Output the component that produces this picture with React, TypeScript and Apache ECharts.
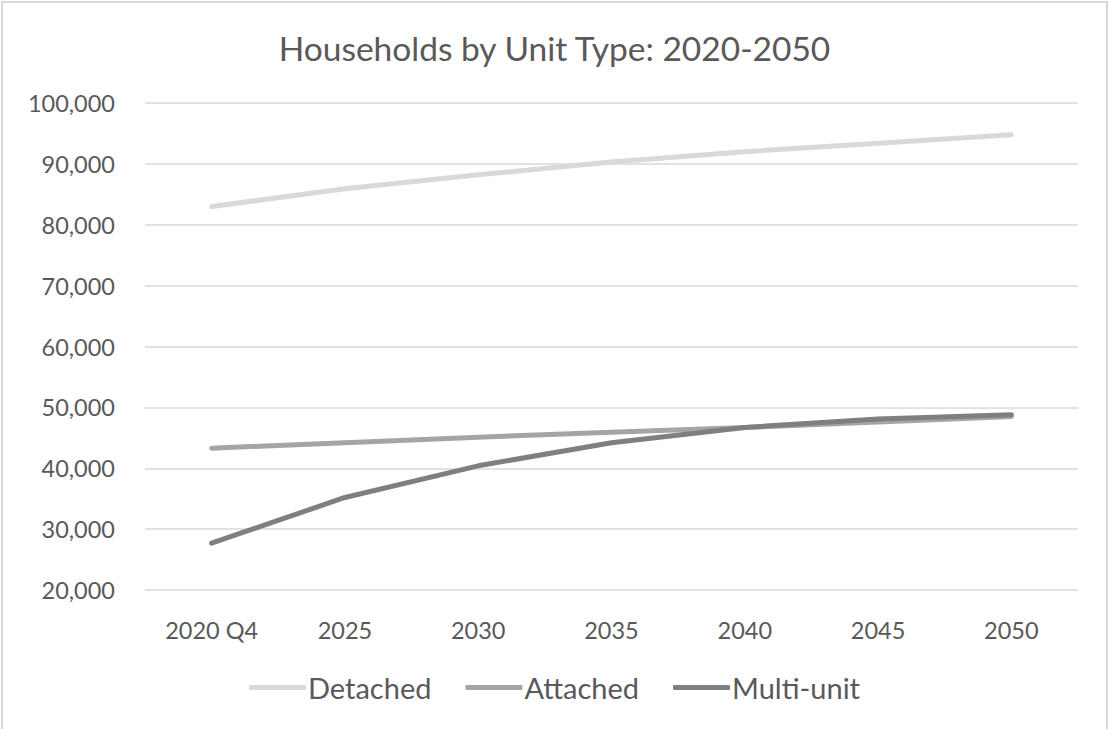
import React, { useEffect, useRef } from "react";
import * as echarts from "echarts";

const categories = ["2020 Q4", "2025", "2030", "2035", "2040", "2045", "2050"];
const detached = [83000, 85900, 88200, 90300, 92000, 93400, 94800];
const attached = [43300, 44200, 45100, 45900, 46700, 47600, 48500];
const multiUnit = [27700, 35200, 40400, 44200, 46700, 48100, 48800];
const yMin = 20000;
const yMax = 100000;
const yInterval = 10000;

const FONT = "Lato, 'Open Sans', sans-serif";
const TEXT = "#595959";

export default function App() {
  const ref = useRef<HTMLDivElement>(null);
  useEffect(() => {
    if (!ref.current) return;
    const chart = echarts.init(ref.current, undefined, { renderer: "svg" });
    const mk = (name: string, data: number[], color: string) => ({
      name,
      type: "line",
      data,
      symbol: "none",
      lineStyle: { color, width: 5, cap: "round", join: "round" },
      itemStyle: { color },
    });
    chart.setOption({
      animation: false,
      backgroundColor: "#ffffff",
      title: {
        text: "Households by Unit Type: 2020-2050",
        left: "center",
        top: 26,
        textStyle: { fontFamily: FONT, fontSize: 33.5, fontWeight: "normal", color: TEXT },
      },
      graphic: [
        {
          type: "rect",
          shape: { x: 2, y: 2, width: 1105, height: 760 },
          style: { fill: "none", stroke: "#d9d9d9", lineWidth: 2 },
          silent: true,
        },
      ],
      legend: {
        top: 668,
        left: "center",
        itemWidth: 57,
        itemHeight: 5,
        itemGap: 34,
        icon: "roundRect",
        textStyle: { fontFamily: FONT, fontSize: 29, color: TEXT, padding: [0, 0, 0, -3] },
        data: ["Detached", "Attached", "Multi-unit"],
      },
      grid: { left: 145, right: 31, top: 103, bottom: 139, containLabel: false },
      xAxis: {
        type: "category",
        data: categories,
        boundaryGap: true,
        axisLine: { show: false },
        axisTick: { show: false },
        axisLabel: { fontFamily: FONT, fontSize: 23.5, color: TEXT, margin: 28 },
      },
      yAxis: {
        type: "value",
        min: yMin,
        max: yMax,
        interval: yInterval,
        axisLine: { show: false },
        axisTick: { show: false },
        splitLine: { lineStyle: { color: "#d9d9d9", width: 1.5 } },
        axisLabel: {
          fontFamily: FONT,
          fontSize: 23.5,
          color: TEXT,
          margin: 30,
          formatter: (v: number) => v.toLocaleString("en-US"),
        },
      },
      series: [
        mk("Detached", detached, "#d9d9d9"),
        mk("Attached", attached, "#a5a5a5"),
        mk("Multi-unit", multiUnit, "#7f7f7f"),
      ],
    });
    return () => chart.dispose();
  }, []);
  return (
    <div
      ref={ref}
      style={{ position: "fixed", left: 0, top: 0, width: 1109, height: 729 }}
    />
  );
}
